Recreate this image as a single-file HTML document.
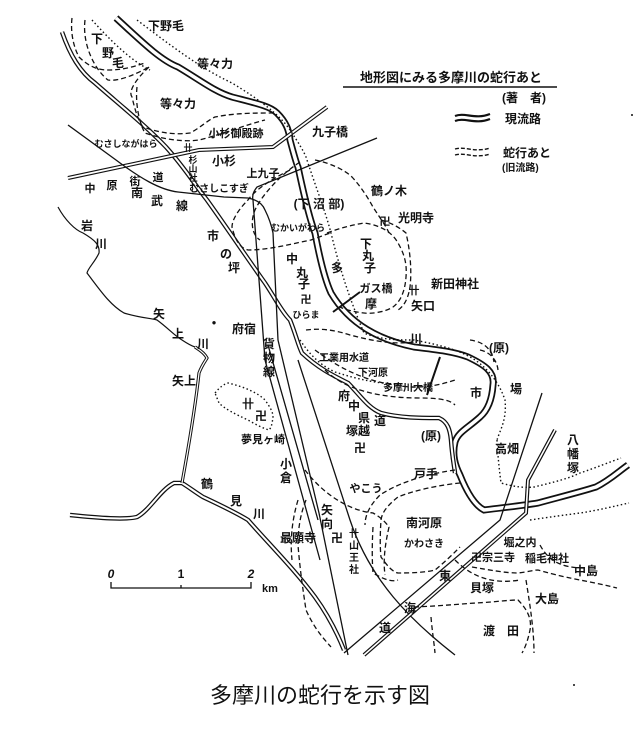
<!DOCTYPE html>
<html><head><meta charset="utf-8"><style>
html,body{margin:0;padding:0;background:#fff;}
svg{display:block;}
text{font-family:"Liberation Sans","Noto Sans CJK JP",sans-serif;fill:#111;}
</style></head><body>
<svg width="640" height="729" viewBox="0 0 640 729" xmlns="http://www.w3.org/2000/svg">
<g fill="none" stroke="#111">
<!-- Tama river -->
<path id="tama" d="M116,18 C140,40 160,60 178,67 C200,80 215,92 232,97 C255,103 270,106 277,113 C286,122 289,130 290,140 C294,155 297,165 298,167 C305,200 310,220 315,233 C320,260 325,280 331,293 C350,325 380,340 414,347 C440,350 455,352 468,357 C485,365 495,372 493,385 C492,400 488,410 480,417 C468,428 458,432 455,442 C452,455 455,465 460,475 C466,490 474,505 484,510 C500,508 520,506 538,503 C560,497 580,492 596,487 C610,480 618,472 628,465" stroke-width="7"/>
<path d="M116,18 C140,40 160,60 178,67 C200,80 215,92 232,97 C255,103 270,106 277,113 C286,122 289,130 290,140 C294,155 297,165 298,167 C305,200 310,220 315,233 C320,260 325,280 331,293 C350,325 380,340 414,347 C440,350 455,352 468,357 C485,365 495,372 493,385 C492,400 488,410 480,417 C468,428 458,432 455,442 C452,455 455,465 460,475 C466,490 474,505 484,510 C500,508 520,506 538,503 C560,497 580,492 596,487 C610,480 618,472 628,465" stroke="#fff" stroke-width="3.5"/>
<!-- left double line -->
<path d="M62,32 C70,55 80,72 95,83 C120,105 145,125 166,147 C185,168 195,185 207,200 C225,225 245,255 265,283 C275,298 282,312 290,320 C296,335 298,345 302,353 C318,368 332,375 348,383 C360,395 368,408 381,413 C400,418 420,418 439,418 C448,422 450,430 451,440 C452,455 454,465 455,473" stroke-width="4.5"/>
<path d="M62,32 C70,55 80,72 95,83 C120,105 145,125 166,147 C185,168 195,185 207,200 C225,225 245,255 265,283 C275,298 282,312 290,320 C296,335 298,345 302,353 C318,368 332,375 348,383 C360,395 368,408 381,413 C400,418 420,418 439,418 C448,422 450,430 451,440 C452,455 454,465 455,473" stroke="#fff" stroke-width="2"/>
<!-- Nakahara kaido -->
<path d="M68,178 L199,150 L273,147 L327,107" stroke-width="4"/>
<path d="M68,178 L199,150 L273,147 L327,107" stroke="#fff" stroke-width="1.8"/>
<!-- Nambu line & others -->
<path d="M68,125 L116,160 C140,178 160,190 178,192 L224,197 L248,198 C258,200 263,205 265,210 C270,220 272,228 273,233 L278,340 L319,513 L348,655" stroke-width="1.3"/>
<path d="M377,138 L257,187 C253,192 252,196 253,200 L265,360 L320,560" stroke-width="1.3"/>
<path d="M298,360 L350,520 C370,580 410,620 455,655" stroke-width="1.3"/>
<path d="M268,345 L318,520" stroke-width="1.3"/>
<path d="M344,653 L500,520 L542,393" stroke-width="1.3"/>
<path d="M364,655 L526,513 L528,480 L555,430" stroke-width="4"/>
<path d="M364,655 L526,513 L528,480 L555,430" stroke="#fff" stroke-width="1.6"/>
<!-- Tsurumi river -->
<path d="M70,515 C100,518 125,520 137,517 C150,510 160,490 174,483 L182,483 C190,488 195,492 203,497 C220,505 235,512 248,520 C270,545 295,570 315,597 C328,615 338,635 344,650" stroke-width="4.5"/>
<path d="M70,515 C100,518 125,520 137,517 C150,510 160,490 174,483 L182,483 C190,488 195,492 203,497 C220,505 235,512 248,520 C270,545 295,570 315,597 C328,615 338,635 344,650" stroke="#fff" stroke-width="2"/>
<!-- Yagami -->
<path d="M182,483 C188,450 195,410 199,373 C202,365 206,360 207,358 C204,352 198,349 195,347" stroke-width="3.2"/>
<path d="M182,483 C188,450 195,410 199,373 C202,365 206,360 207,358 C204,352 198,349 195,347" stroke="#fff" stroke-width="1.2"/>
<path d="M58,207 C65,220 75,230 83,233 C95,240 100,245 99,253 C95,262 88,268 87,273 C100,290 110,305 124,313 C140,318 150,318 157,320 C168,328 175,336 182,340 C188,344 192,346 195,347" stroke-width="1.2"/>
<!-- bridges -->
<path d="M333,312 L360,292 M427,395 L440,357" stroke-width="2"/>
</g>
<!-- dashed old courses -->
<g fill="none" stroke="#111" stroke-width="1.3" stroke-dasharray="5,3">
<path d="M72,18 C70,35 75,50 79,57 C90,68 100,70 108,70 C125,70 135,66 145,63"/>
<path d="M85,20 C82,45 95,70 108,80 C120,82 140,72 149,67"/>
<path d="M149,67 C135,80 128,92 132,97 C135,110 138,120 143,127 C160,133 175,135 190,133 C200,128 208,120 215,117 C235,113 255,113 273,113"/>
<path d="M137,87 C135,105 140,125 145,133 C165,140 185,142 199,140 C220,135 245,125 265,120"/>
<path d="M290,170 C270,180 255,190 248,200 C238,210 232,220 232,227 C235,240 240,248 248,250 C270,250 295,243 311,240 C320,237 326,234 331,233"/>
<path d="M300,162 C280,175 262,195 255,210 C250,222 252,235 260,240"/>
<path d="M315,160 C330,163 345,170 352,177 C362,188 368,198 373,207 C380,218 386,226 389,233"/>
<path d="M327,233 C340,228 352,225 364,223 C380,225 392,232 398,243 C405,255 407,265 406,277 C405,292 400,302 393,307 C385,312 372,314 364,313 C355,312 346,310 340,307"/>
<path d="M381,220 C392,223 400,228 406,233 C410,250 412,270 410,287 C408,300 403,307 398,310"/>
<path d="M306,330 C320,328 335,330 350,335 C370,340 390,345 414,342"/>
<path d="M315,350 C335,365 360,380 395,385 C420,390 440,385 455,380"/>
<path d="M325,370 C345,390 380,398 420,398 C440,398 450,400 455,405"/>
<path d="M470,340 C485,342 492,350 494,362 M480,350 C490,352 497,360 498,370"/>
<path d="M306,500 C300,515 298,530 298,545 C300,570 303,590 306,610 C315,630 325,640 331,647"/>
<path d="M298,500 C292,520 290,540 292,560"/>
<path d="M305,470 C320,490 345,510 373,513 C382,518 386,523 389,527 C385,545 383,560 385,575"/>
<path d="M460,483 C440,485 415,490 398,497 C388,505 382,512 381,520 C380,535 380,548 381,557 C388,567 393,572 398,573 C415,573 428,572 435,570 C445,562 455,552 460,547"/>
<path d="M455,470 C420,475 395,485 380,495 C370,505 365,515 365,525"/>
<path d="M373,527 C372,545 372,560 373,573 C385,580 392,582 398,580"/>
<path d="M472,567 C490,570 505,573 518,573 C528,572 533,570 538,570 C555,575 570,578 580,580 C595,583 605,585 617,588"/>
<path d="M414,607 C440,606 460,604 476,603 C495,602 508,600 518,600 C528,610 532,620 530,630 C528,640 525,648 522,653"/>
<path d="M431,617 C432,630 434,642 435,653"/>
<path d="M526,580 C530,605 534,630 534,653"/>
<path d="M455,560 C470,575 490,585 520,580"/>
<path d="M540,545 C548,560 560,568 585,568"/>
</g>
<g fill="none" stroke="#111" stroke-width="1.4" stroke-dasharray="1.5,2.5">
<path d="M137,20 C170,45 200,68 232,83 C260,100 280,115 290,130 C298,142 303,150 306,157 C315,185 325,210 331,233 C340,270 350,300 364,333 C380,340 400,340 414,340 C440,345 460,350 475,360 C490,370 500,385 505,400 C507,420 500,430 497,440"/>
<path d="M92,20 C110,40 130,60 150,70"/>
<path d="M497,440 C498,460 500,475 501,483 C515,487 525,488 534,487 C555,482 570,478 580,473 C595,468 610,462 621,458"/>
<path d="M530,520 C550,517 565,515 580,513 C600,510 615,506 629,503"/>
<path d="M215,393 C220,387 224,384 228,383 C245,387 258,393 265,400 C270,407 273,412 273,417 C272,425 271,428 269,430 C262,428 255,424 248,420 C235,414 225,409 219,403 Z"/>
<path d="M300,340 C310,355 320,365 335,372 C360,380 380,384 400,384"/>
</g>
<!-- legend -->
<g font-size="13" font-weight="bold">
<text x="451" y="82" text-anchor="middle">地形図にみる多摩川の蛇行あと</text>
</g>
<line x1="343" y1="87" x2="557" y2="87" stroke="#111" stroke-width="1.5"/>
<g font-size="12" font-weight="bold">
<text x="524" y="102" text-anchor="middle">(著　者)</text>
<text x="505" y="123">現流路</text>
<text x="503" y="157">蛇行あと</text>
<text x="502" y="171" font-size="10">(旧流路)</text>
</g>
<path d="M455,116 C465,112 475,120 490,114 M455,121 C465,117 475,125 490,119" stroke="#111" stroke-width="2.2" fill="none"/>
<path d="M455,149 C465,146 475,153 490,148 M455,155 C465,152 475,159 490,154" stroke="#111" stroke-width="1.4" stroke-dasharray="4,2" fill="none"/>
<!-- labels -->
<g font-size="12" font-weight="bold" text-anchor="middle">
<text x="166" y="30">下野毛</text>
<text x="215" y="68">等々力</text>
<text x="97" y="43">下</text><text x="108" y="57">野</text><text x="118" y="67">毛</text>
<text x="178" y="108">等々力</text>
<text x="236" y="137" font-size="11">小杉御殿跡</text>
<text x="330" y="136">九子橋</text>
<text x="126" y="147" font-size="9">むさしながはら</text>
<text x="188" y="151" font-size="9">卄</text>
<text x="193" y="163" font-size="9">杉</text><text x="193" y="172" font-size="9">山</text><text x="193" y="181" font-size="9">社</text>
<text x="224" y="165">小杉</text>
<text x="263" y="177" font-size="11">上九子</text>
<text x="90" y="192" font-size="11">中</text><text x="112" y="189" font-size="11">原</text><text x="135" y="185" font-size="11">街</text><text x="158" y="181" font-size="11">道</text>
<text x="137" y="197">南</text><text x="157" y="205">武</text><text x="182" y="210">線</text>
<text x="219" y="192" font-size="10">むさしこすぎ</text>
<text x="319" y="208">(下 沼 部)</text>
<text x="389" y="195">鶴ノ木</text>
<text x="385" y="225" font-size="11">卍</text>
<text x="416" y="222">光明寺</text>
<text x="298" y="231" font-size="9">むかいがわら</text>
<text x="87" y="230">岩</text><text x="101" y="248">川</text>
<text x="213" y="240">市</text><text x="226" y="258">の</text><text x="234" y="272">坪</text>
<text x="292" y="263">中</text><text x="302" y="277">丸</text><text x="304" y="288">子</text>
<text x="306" y="303" font-size="11">卍</text>
<text x="306" y="318" font-size="9">ひらま</text>
<text x="337" y="272">多</text>
<text x="366" y="248">下</text><text x="368" y="260">丸</text><text x="370" y="272">子</text>
<text x="376" y="292" font-size="11">ガス橋</text>
<text x="371" y="308">摩</text>
<text x="414" y="294" font-size="11">卄</text>
<text x="423" y="310">矢口</text>
<text x="455" y="288">新田神社</text>
<text x="159" y="318">矢</text><text x="178" y="338">上</text><text x="203" y="348">川</text>
<text x="214" y="325" font-size="8">●</text>
<text x="244" y="333">府宿</text>
<text x="416" y="343">川</text>
<text x="499" y="352">(原)</text>
<text x="269" y="348">貨</text><text x="269" y="362">物</text><text x="269" y="376">線</text>
<text x="344" y="361" font-size="10">工業用水道</text>
<text x="373" y="376" font-size="10">下河原</text>
<text x="408" y="391" font-size="10">多摩川大橋</text>
<text x="476" y="397">市</text><text x="516" y="393">場</text>
<text x="184" y="385">矢上</text>
<text x="248" y="408">卄</text><text x="261" y="420">卍</text>
<text x="263" y="443" font-size="11">夢見ヶ崎</text>
<text x="344" y="400">府</text><text x="354" y="410">中</text><text x="364" y="422">県</text><text x="380" y="425">道</text>
<text x="358" y="435">塚越</text><text x="360" y="452">卍</text>
<text x="431" y="440">(原)</text>
<text x="507" y="453">高畑</text>
<text x="573" y="444">八</text><text x="573" y="458">幡</text><text x="573" y="472">塚</text>
<text x="286" y="468">小</text><text x="286" y="482">倉</text>
<text x="207" y="488">鶴</text><text x="236" y="505">見</text><text x="259" y="518">川</text>
<text x="426" y="478">戸手</text>
<text x="366" y="492" font-size="11">やこう</text>
<text x="327" y="514">矢</text><text x="327" y="528">向</text><text x="337" y="542">卍</text>
<text x="424" y="527">南河原</text>
<text x="424" y="547" font-size="10">かわさき</text>
<text x="298" y="542">最願寺</text>
<text x="354" y="537" font-size="10">卄</text><text x="354" y="549" font-size="10">山</text><text x="354" y="561" font-size="10">王</text><text x="354" y="573" font-size="10">社</text>
<text x="520" y="546" font-size="11">堀之内</text>
<text x="493" y="561" font-size="11">卍宗三寺</text>
<text x="547" y="562" font-size="11">稲毛神社</text>
<text x="586" y="575">中島</text>
<text x="445" y="580">東</text>
<text x="482" y="592">貝塚</text>
<text x="547" y="603">大島</text>
<text x="410" y="612">海</text>
<text x="385" y="632">道</text>
<text x="501" y="635">渡　田</text>
</g>
<!-- scale -->
<g font-size="12" font-weight="bold" text-anchor="middle">
<text x="111" y="578" font-style="italic">0</text>
<text x="181" y="578">1</text>
<text x="251" y="578" font-style="italic">2</text>
<text x="270" y="592" font-size="11">km</text>
</g>
<path d="M111,582 V588 H251 V582 M181,585 V588" stroke="#111" stroke-width="1.3" fill="none"/>
<!-- title -->
<text x="320" y="703" text-anchor="middle" font-size="22">多摩川の蛇行を示す図</text>
<circle cx="574" cy="685" r="1" fill="#111"/>
<circle cx="632" cy="115" r="1" fill="#111"/>
</svg>
</body></html>
